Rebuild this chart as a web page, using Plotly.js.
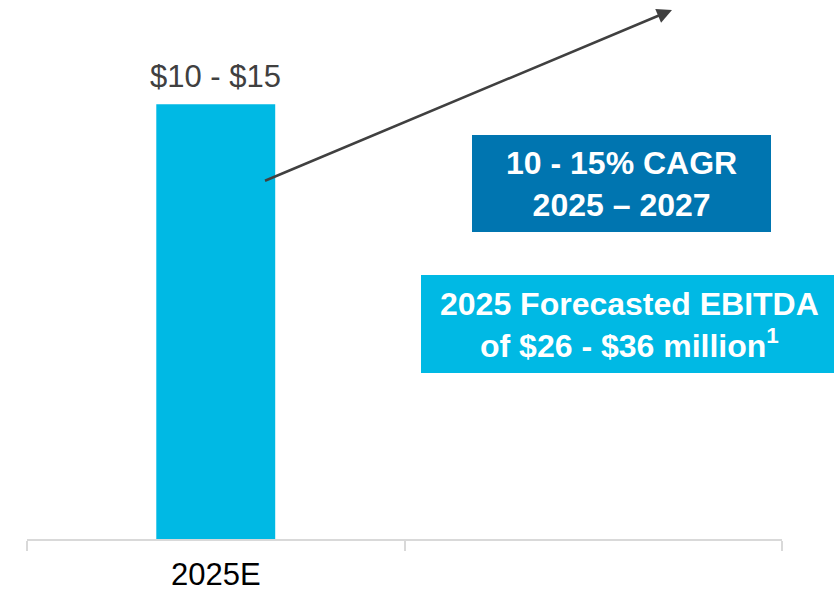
<!DOCTYPE html>
<html>
<head>
<meta charset="utf-8">
<script src="https://cdn.plot.ly/plotly-3.0.1.min.js"></script>
<style>html,body{margin:0;padding:0;background:#fff;}#chart{width:834px;height:593px;}</style>
</head>
<body>
<div id="chart"></div>
<script>
// Data
const categories = ["2025E", "2027E"];
const tickLabels = ["2025E", ""];
const values = [12.5, null];
const valueLabels = ["$10 - $15", ""];
const cagrText = ["10 - 15% CAGR", "2025 \u2013 2027"];
const ebitdaText = ["2025 Forecasted EBITDA", "of $26 - $36 million<sup>1</sup>"];

const FONT = "Liberation Sans, Arial, sans-serif";
const BAR = "#00B9E4";

const W = 834, H = 593;
const M = {l: 27, r: 52, t: 0, b: 54};
const pw = W - M.l - M.r, ph = H - M.t - M.b;
const px = x => (x - M.l) / pw;
const py = y => (H - M.b - y) / ph;

const trace = {
  type: "bar",
  x: categories,
  y: values,
  width: [0.315, 0.315],
  marker: {color: BAR},
  hoverinfo: "skip"
};

const annotations = [];
categories.forEach((c, i) => {
  if (values[i] != null && valueLabels[i]) {
    annotations.push({
      x: c, y: values[i], xref: "x", yref: "y",
      text: valueLabels[i], showarrow: false,
      yanchor: "bottom", yshift: 8,
      font: {family: FONT, size: 31, color: "#404040"}
    });
  }
});
annotations.push({
  x: px(621.5), y: py(184), xref: "paper", yref: "paper",
  text: cagrText.join("<br>"), showarrow: false,
  font: {family: FONT, size: 32, color: "#ffffff", weight: "bold"},
  xanchor: "center", yanchor: "middle"
});
annotations.push({
  x: px(629), y: py(325), xref: "paper", yref: "paper",
  text: ebitdaText.join("<br>"), showarrow: false,
  font: {family: FONT, size: 32, color: "#ffffff", weight: "bold"},
  xanchor: "center", yanchor: "middle"
});
annotations.push({
  x: px(672), y: py(10), xref: "paper", yref: "paper",
  ax: 262 - 672, ay: 182 - 10, axref: "pixel", ayref: "pixel",
  text: " ", showarrow: true,
  arrowhead: 2, arrowsize: 1.2, arrowwidth: 2.5, arrowcolor: "#404040",
  standoff: 0, startstandoff: 0
});

const layout = {
  width: W, height: H,
  margin: M,
  paper_bgcolor: "#ffffff", plot_bgcolor: "#ffffff",
  showlegend: false,
  xaxis: {
    type: "category",
    categoryorder: "array", categoryarray: categories,
    range: [-0.5, 1.5],
    tickvals: categories, ticktext: tickLabels,
    tickson: "boundaries",
    ticks: "outside", ticklen: 10, tickwidth: 2, tickcolor: "#d9d9d9",
    ticklabelstandoff: 7,
    showline: true, linecolor: "#d9d9d9", linewidth: 2,
    showgrid: false, zeroline: false,
    tickfont: {family: FONT, size: 31, color: "#000000"},
    fixedrange: true
  },
  yaxis: {
    range: [0, 15.5],
    visible: false, showgrid: false, zeroline: false, fixedrange: true
  },
  shapes: [
    {type: "rect", xref: "paper", yref: "paper", x0: px(472), x1: px(771), y0: py(232), y1: py(135),
     fillcolor: "#0075B0", line: {width: 0}, layer: "below"},
    {type: "rect", xref: "paper", yref: "paper", x0: px(421), x1: px(834), y0: py(373), y1: py(275),
     fillcolor: BAR, line: {width: 0}, layer: "below"}
  ],
  annotations: annotations
};

Plotly.newPlot("chart", [trace], layout, {displayModeBar: false, staticPlot: true});
</script>
</body>
</html>
